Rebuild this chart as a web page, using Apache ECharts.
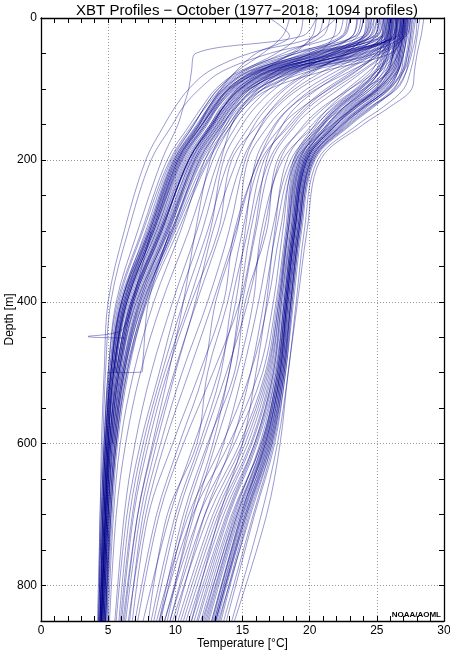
<!DOCTYPE html>
<html><head><meta charset="utf-8">
<script src="https://cdn.jsdelivr.net/npm/echarts@6/dist/echarts.min.js"></script>
<style>html,body{margin:0;padding:0;background:#fff}#c{width:450px;height:653px}</style>
</head><body><div id="c"></div>
<script>
// Depth levels (m) shared by all profiles
const depths = [0, 25, 50, 75, 100, 125, 150, 200, 300, 400, 500, 600, 700, 850];

// Temperature (°C) at the depth levels above; shorter arrays end earlier
const coldProfiles = [
  [26.5, 26.3, 22.0, 17.0, 14.8, 13.6, 12.8, 11.0, 9.0, 6.9, 5.8, 5.2, 4.9, 4.6],
  [25.8, 25.5, 20.5, 16.0, 14.0, 13.0, 12.2, 10.4, 8.5, 6.3, 5.5, 5.0, 4.8, 4.5],
  [27.0, 26.8, 24.0, 18.5, 15.5, 14.2, 13.3, 11.6, 9.4, 7.3, 6.0, 5.3, 5.0, 4.7],
  [24.5, 24.0, 19.0, 15.0, 13.2, 12.2, 11.4, 9.8, 7.9, 5.9, 5.2, 4.8, 4.6, 4.4],
  [26.0, 25.8, 23.0, 17.5, 15.0, 13.8, 12.9, 11.2, 9.2, 7.0, 5.9, 5.3, 5.0, 4.7],
  [23.0, 22.6, 19.5, 16.2, 14.2, 13.0, 12.0, 10.1, 8.2, 6.1, 5.3, 4.9, 4.7, 4.5],
  [27.5, 27.2, 25.0, 19.5, 16.5, 14.8, 13.8, 12.0, 9.8, 7.6, 6.2, 5.5, 5.1, 4.8],
  [25.0, 24.6, 21.0, 16.8, 14.5, 13.2, 12.3, 10.6, 8.6, 6.5, 5.5, 5.0, 4.8, 4.5],
  [21.5, 21.0, 18.0, 15.2, 13.5, 12.5, 11.6, 9.9, 8.0, 6.0, 5.2, 4.9, 4.7, 4.4],
  [26.2, 26.0, 23.5, 18.0, 15.2, 13.9, 13.0, 11.3, 9.3, 7.2, 6.0, 5.3],
  [25.5, 25.0, 20.0, 15.5, 13.6, 12.6, 11.8, 10.0, 8.1, 6.2, 5.4],
  [24.0, 23.5, 18.5, 14.8, 13.0, 12.0, 11.1, 9.4, 7.5, 5.7, 5.0, 4.7, 4.5, 4.3],
  [26.8, 26.5, 22.5, 17.2, 14.9, 13.7, 12.8, 11.1, 8.9, 6.8, 5.7, 5.1, 4.9, 4.6],
  [22.0, 21.8, 20.5, 16.5, 14.0, 12.8, 12.0, 10.3, 8.4, 6.4, 5.4, 5.0, 4.8, 4.5],
  [27.2, 27.0, 26.0, 21.0, 17.0, 15.2, 14.2, 12.5, 10.2, 7.9, 6.4, 5.6, 5.2, 4.9],
  [25.2, 24.8, 21.5, 17.5, 15.3, 14.0, 13.1, 11.4, 9.5, 7.4, 6.2, 5.5, 5.1, 4.8],
  [19.5, 19.2, 17.5, 15.0, 13.4, 12.3, 11.3, 9.6, 7.6, 5.8, 5.1, 4.8, 4.6, 4.4],
  [26.5, 26.2, 24.5, 19.0, 16.0, 14.5, 13.5, 11.8, 9.7, 7.5, 6.1, 5.4],
  [24.8, 24.2, 20.8, 16.3, 14.2, 13.1, 12.2, 10.5, 8.4, 6.4, 5.4, 5.0, 4.8, 4.5],
  [26.0, 25.7, 22.8, 17.8, 15.4, 14.1, 13.2, 11.5, 9.6, 7.8, 6.5, 5.7, 5.3, 4.9],
  [23.5, 23.2, 20.2, 16.0, 13.8, 12.7, 11.8, 10.1, 8.1, 6.0, 5.1, 4.7, 4.5, 4.3],
  [27.0, 26.7, 23.0, 18.0, 15.6, 14.4, 13.6, 12.2, 10.4, 8.4, 6.9, 5.9, 5.4, 5.0],
  [25.5, 25.3, 22.0, 16.8, 14.6, 13.4, 12.6, 10.9, 8.8, 6.7, 5.6],
  [20.5, 20.2, 18.8, 15.8, 13.9, 12.9, 12.0, 10.2, 8.3, 6.2, 5.3, 4.9, 4.7, 4.4],
  [22.5, 22.0, 17.0, 13.5, 11.8, 10.6, 9.8, 8.2, 6.5, 5.2, 4.8, 4.6, 4.4, 4.3],
  [21.0, 20.5, 15.5, 12.5, 11.0, 10.0, 9.2, 7.8, 6.2, 5.0, 4.7, 4.5, 4.4, 4.2],
  [24.2, 24.0, 22.5, 18.2, 15.6, 14.3, 13.4, 11.7, 9.5, 7.1, 5.8, 5.2, 4.9, 4.6],
  [26.6, 26.4, 21.5, 16.6, 14.4, 13.2, 12.4, 10.7, 8.7, 6.6, 5.6],
  [18.5, 18.0, 16.5, 14.6, 13.2, 12.2, 11.4, 9.7, 7.8, 6.0, 5.2, 4.8, 4.6, 4.4],
  [27.3, 27.0, 24.2, 18.8, 16.2, 14.9, 14.0, 12.4, 10.0, 7.8, 6.3, 5.6, 5.2, 4.8],
  [20.5, 19.5, 11.5, 11.2, 11.0, 10.6, 10.2, 9.0, 7.2, 5.6, 5.0, 4.7, 4.5, 4.3],
  [25.9, 25.6, 21.8, 16.9, 14.7, 13.5, 12.6, 10.8, 8.8, 6.7, 5.6, 5.1, 4.8, 4.5],
  [26.3, 26.1, 23.2, 17.6, 15.1, 13.8, 12.9, 11.2, 9.1, 6.9, 5.8, 5.2, 4.9, 4.6],
  [24.6, 24.3, 20.2, 15.8, 13.9, 12.8, 11.9, 10.2, 8.2, 6.2, 5.3, 4.9, 4.7, 4.4],
  [27.1, 26.9, 24.8, 19.2, 16.1, 14.6, 13.6, 11.9, 9.7, 7.4, 6.1, 5.4, 5.0, 4.7],
  [25.4, 25.1, 21.2, 16.4, 14.3, 13.1, 12.3, 10.5, 8.6, 6.4, 5.4, 5.0, 4.8, 4.5],
  [26.7, 26.5, 23.8, 18.3, 15.5, 14.2, 13.3, 11.5, 9.3, 7.1, 5.9, 5.3, 5.0, 4.7],
  [23.8, 23.4, 19.8, 15.6, 13.7, 12.6, 11.7, 9.9, 8.0, 6.0, 5.2, 4.8, 4.6, 4.4],
  [26.1, 25.9, 22.4, 17.3, 14.9, 13.6, 12.7, 11.0, 9.0, 6.8, 5.7, 5.1, 4.9, 4.6],
  [25.7, 25.4, 20.8, 16.2, 14.1, 12.9, 12.1, 10.4, 8.4, 6.4, 5.5],
  [27.4, 27.1, 25.4, 20.0, 16.6, 15.0, 14.0, 12.2, 9.9, 7.6, 6.2, 5.5, 5.1, 4.8],
  [22.8, 22.4, 19.0, 15.4, 13.6, 12.5, 11.7, 10.0, 8.1, 6.1, 5.2, 4.8, 4.6, 4.4],
  [26.4, 26.2, 22.9, 17.7, 15.3, 14.0, 13.1, 11.4, 9.4, 7.3, 6.1, 5.4, 5.0, 4.7],
  [25.1, 24.8, 20.4, 16.1, 14.0, 12.9, 12.0, 10.3, 8.3, 6.3, 5.4, 4.9, 4.7],
  [24.4, 24.1, 21.6, 17.0, 14.8, 13.6, 12.7, 11.0, 8.9, 6.8, 5.7, 5.1, 4.8, 4.5],
  [26.9, 26.6, 22.2, 17.1, 14.8, 13.6, 12.7, 11.0, 8.9, 6.7, 5.6, 5.1, 4.8, 4.5],
  [25.6, 25.4, 23.6, 18.6, 15.8, 14.5, 13.5, 11.8, 9.8, 7.7, 6.4, 5.6, 5.2, 4.8],
  [17.0, 18.5, 16.0, 14.5, 13.4, 12.5, 11.8, 10.2, 8.3, 6.3, 5.4, 5.0, 4.7, 4.5],
  [22.0, 20.5, 18.6, 16.4, 14.6, 13.6, 12.8, 11.0, 9.0, 6.9, 5.8, 5.2, 4.9, 4.6]
];

const warmProfiles = [
  [27.2, 27.0, 26.8, 26.4, 25.5, 23.8, 22.2, 19.9, 19.0, 18.4, 17.9, 16.8, 14.8, 12.5],
  [26.5, 26.4, 26.2, 25.8, 24.8, 23.0, 21.6, 19.4, 18.6, 18.0, 17.3, 15.9, 13.8, 11.2],
  [27.8, 27.6, 27.4, 27.2, 26.5, 24.5, 22.8, 20.3, 19.3, 18.7, 18.2, 17.3, 15.8, 13.6],
  [26.8, 26.6, 26.3, 25.6, 24.2, 22.6, 21.3, 19.2, 18.4, 17.8, 17.0, 15.4, 13.0, 10.4],
  [28.2, 28.0, 27.8, 27.5, 27.0, 25.5, 23.6, 20.6, 19.6, 19.0, 18.4, 17.6, 16.4, 14.2],
  [27.0, 26.9, 26.7, 26.3, 25.0, 23.2, 21.8, 19.7, 18.9, 18.3, 17.7, 16.5, 14.5, 12.0],
  [26.2, 26.0, 25.8, 25.2, 23.8, 22.0, 20.8, 19.0, 18.3, 17.7, 16.8, 15.0, 12.5, 9.8],
  [27.5, 27.3, 27.0, 26.8, 26.0, 24.2, 22.5, 20.0, 19.1, 18.5, 18.0, 17.0, 15.2, 13.0],
  [25.8, 25.7, 25.5, 25.0, 23.5, 21.8, 20.6, 18.9, 18.2, 17.5, 16.5, 14.4, 11.8, 9.2],
  [27.3, 27.1, 26.9, 26.6, 25.8, 24.0, 22.4, 20.1, 19.2, 18.6, 18.1, 17.2, 15.6, 13.2],
  [26.6, 26.5, 26.3, 25.9, 24.6, 22.8, 21.4, 19.5, 18.7, 18.1, 17.5, 16.1, 14.0, 11.6],
  [28.5, 28.3, 28.0, 27.8, 27.6, 26.0, 24.0, 20.8, 19.8, 19.1, 18.4, 17.8, 16.8, 14.4],
  [26.9, 26.7, 26.5, 26.0, 24.0, 22.2, 21.0, 19.3, 18.5, 17.9, 17.2, 15.7, 13.4, 10.8],
  [27.1, 27.0, 26.8, 26.5, 25.4, 23.6, 22.0, 19.8, 18.9, 18.3, 17.8, 16.7, 14.9, 12.7],
  [26.3, 26.1, 25.9, 25.5, 24.4, 22.7, 21.4, 19.6, 18.8, 18.2, 17.6, 16.4, 14.3, 11.9],
  [27.6, 27.5, 27.3, 27.0, 26.2, 24.6, 22.9, 20.2, 19.2, 18.6, 18.0, 17.1, 15.4, 13.3],
  [25.5, 25.4, 25.2, 24.6, 23.0, 21.5, 20.4, 18.8, 18.0, 17.3, 16.2, 14.0, 11.3, 8.8],
  [27.0, 26.8, 26.6, 26.2, 25.1, 23.3, 21.9, 19.7, 18.8, 18.2, 17.6, 16.5, 14.6, 12.3],
  [26.4, 26.3, 26.1, 25.7, 24.9, 23.1, 21.7, 19.6, 18.8, 18.2, 17.7, 16.6, 14.9, 12.8],
  [27.9, 27.7, 27.5, 27.0, 25.9, 24.0, 22.4, 20.0, 19.1, 18.5, 17.9, 16.9, 15.0, 12.7],
  [25.9, 25.8, 25.6, 25.2, 24.1, 22.4, 21.1, 19.3, 18.4, 17.7, 16.9, 15.2, 12.8, 10.2],
  [27.1, 26.9, 26.7, 26.5, 25.7, 24.1, 22.6, 20.1, 19.1, 18.4, 17.8, 16.8, 15.1, 12.9],
  [26.7, 26.6, 26.4, 26.0, 25.0, 23.3, 21.8, 19.6, 18.7, 18.1, 17.5, 16.3, 14.4, 12.1],
  [27.3, 27.2, 27.0, 26.6, 25.6, 23.9, 22.3, 19.9, 19.0, 18.4, 17.9, 16.9, 15.2, 13.0],
  [26.9, 26.8, 26.6, 26.2, 25.2, 23.5, 22.0, 19.8, 18.9, 18.3, 17.8, 16.7, 14.7, 12.4],
  [26.1, 26.0, 25.8, 25.3, 24.0, 22.3, 21.0, 19.2, 18.4, 17.8, 17.1, 15.6, 13.2, 10.6],
  [27.7, 27.5, 27.3, 26.9, 25.8, 24.1, 22.5, 20.1, 19.2, 18.6, 18.1, 17.2, 15.5, 13.4],
  [26.5, 26.4, 26.2, 25.8, 24.6, 22.9, 21.5, 19.5, 18.7, 18.1, 17.4, 16.0, 13.9, 11.4],
  [27.2, 27.1, 26.9, 26.6, 25.9, 24.3, 22.7, 20.2, 19.2, 18.6, 18.0, 17.0, 15.3, 13.1],
  [26.8, 26.7, 26.5, 26.1, 25.1, 23.4, 21.9, 19.7, 18.8, 18.2, 17.6, 16.4, 14.2, 11.7],
  [27.5, 27.4, 27.2, 26.9, 26.3, 24.8, 23.1, 20.4, 19.4, 18.8, 18.2, 17.4, 15.9, 13.8],
  [26.0, 25.9, 25.7, 25.2, 24.2, 22.6, 21.3, 19.4, 18.6, 17.9, 17.3, 15.9, 13.6, 11.0],
  [27.0, 26.9, 26.7, 26.3, 25.3, 23.6, 22.1, 19.8, 18.9, 18.3, 17.7, 16.6, 14.6, 12.2],
  [26.6, 26.4, 26.2, 25.9, 25.0, 23.4, 22.0, 19.8, 18.9, 18.3, 17.8, 16.7, 15.0, 12.9],
  [28.0, 27.9, 27.6, 27.2, 26.4, 24.7, 23.0, 20.3, 19.3, 18.7, 18.1, 17.1, 15.3, 13.0],
  [25.7, 25.6, 25.4, 24.9, 23.7, 22.1, 20.9, 19.1, 18.3, 17.6, 16.7, 14.8, 12.2, 9.6]
];

const mixedProfiles = [
  [26.0, 25.8, 25.0, 23.5, 21.5, 19.5, 18.0, 16.2, 14.5, 12.8, 11.0, 9.2, 7.8, 6.5],
  [27.0, 26.8, 26.2, 25.0, 23.0, 21.0, 19.6, 17.8, 16.6, 15.4, 13.8, 12.0, 10.2, 8.4],
  [25.0, 24.5, 22.0, 19.0, 17.0, 15.6, 14.6, 13.2, 11.6, 9.8, 8.2, 7.0, 6.2, 5.5],
  [26.5, 26.3, 25.6, 24.0, 22.2, 20.4, 19.0, 17.2, 16.0, 15.0, 14.0, 12.8, 11.2, 9.4],
  [24.0, 23.6, 21.5, 18.5, 16.5, 15.2, 14.2, 12.8, 11.0, 9.0, 7.4, 6.3, 5.6, 5.1],
  [27.2, 27.0, 26.6, 25.8, 24.4, 22.6, 21.0, 18.8, 17.5, 16.6, 15.6, 14.2, 12.2, 10.0],
  [25.6, 25.4, 24.0, 21.5, 19.2, 17.6, 16.5, 15.0, 13.4, 11.6, 9.9, 8.4, 7.2, 6.1],
  [26.8, 26.6, 26.0, 24.8, 23.4, 21.6, 20.2, 18.3, 17.4, 16.8, 16.0, 15.0, 13.3, 11.2],
  [23.0, 22.5, 20.0, 17.5, 15.8, 14.6, 13.8, 12.6, 11.5, 10.6, 9.5, 8.3, 7.2, 6.2],
  [26.2, 26.0, 25.3, 23.0, 20.5, 18.6, 17.4, 16.0, 15.2, 14.5, 13.2, 11.4, 9.6, 7.6],
  [25.3, 25.0, 23.0, 20.0, 18.0, 16.6, 15.6, 14.0, 12.4, 10.6, 9.0, 7.6, 6.6, 5.8],
  [27.4, 27.2, 27.0, 26.5, 25.2, 23.4, 21.7, 19.0, 17.8, 16.9, 15.6, 13.5, 11.0, 8.6],
  [24.6, 24.2, 22.6, 20.4, 18.6, 17.3, 16.4, 15.2, 14.0, 12.4, 10.5, 8.9, 7.6, 6.6],
  [26.0, 25.8, 24.8, 22.6, 20.6, 19.0, 18.0, 16.8, 15.9, 14.8, 12.8, 10.6, 8.8, 7.2],
  [25.8, 25.5, 24.4, 22.0, 19.8, 18.2, 17.0, 15.4, 14.6, 13.0, 12.1, 10.3, 8.6, 7.0],
  [26.4, 26.2, 25.2, 23.4, 21.4, 19.8, 18.6, 16.4, 15.0, 13.9, 12.4, 11.6, 9.4, 8.0],
  [26.3, 26.1, 25.5, 23.8, 21.8, 20.0, 18.8, 17.0, 15.6, 14.8, 14.0, 12.5, 10.8, 8.9],
  [24.8, 24.5, 22.8, 20.2, 18.2, 16.9, 15.9, 14.6, 12.8, 11.5, 10.0, 8.6, 7.4, 6.3],
  [27.1, 26.9, 26.3, 25.3, 23.6, 21.9, 20.5, 18.0, 16.4, 15.8, 14.6, 13.0, 11.4, 9.2],
  [23.6, 23.2, 21.0, 18.0, 16.2, 15.0, 14.2, 13.4, 12.0, 10.2, 8.8, 7.4, 6.4, 5.6],
  [25.9, 25.7, 24.6, 22.4, 20.2, 18.6, 17.5, 16.2, 14.4, 13.6, 11.8, 9.8, 8.0, 6.8],
  [26.6, 26.4, 25.8, 24.4, 22.8, 21.2, 19.8, 17.6, 16.8, 15.2, 14.4, 12.4, 10.6, 8.8],
  [25.2, 24.9, 23.4, 21.0, 18.9, 17.4, 16.2, 14.2, 13.2, 11.2, 9.4, 8.0, 6.9, 6.0],
  [26.9, 26.7, 26.1, 25.0, 23.8, 22.2, 20.8, 18.6, 17.2, 16.2, 15.0, 13.6, 11.8, 9.6],
  [24.3, 24.0, 21.8, 19.2, 17.4, 16.0, 15.0, 13.6, 12.6, 11.0, 9.2, 7.8, 6.8, 5.9],
  [26.1, 25.9, 25.0, 23.2, 21.2, 19.6, 18.4, 16.6, 15.4, 14.2, 13.4, 11.8, 10.0, 8.2]
];

// Short profiles with spurious end points (temperature, depth pairs)
const stubProfiles = [
  [[8.2, 300], [6.8, 400], [6.0, 440], [3.5, 449], [6.3, 451]],
  [[9.6, 300], [8.0, 400], [7.6, 480], [7.5, 499], [4.9, 500]]
];

const lineColor = 'rgba(0,0,140,0.4)';
const series = [];
function addProfile(temps) {
  series.push({
    type: 'line', xAxisIndex: 0, yAxisIndex: 0,
    data: temps.map((t, i) => [t, depths[i]]),
    showSymbol: false, smooth: 0.35, silent: true,
    lineStyle: { color: lineColor, width: 1 }
  });
}
mixedProfiles.forEach(addProfile);
coldProfiles.forEach(addProfile);
warmProfiles.forEach(addProfile);
stubProfiles.forEach(p => series.push({
  type: 'line', xAxisIndex: 0, yAxisIndex: 0, data: p,
  showSymbol: false, smooth: 0.3, silent: true,
  lineStyle: { color: lineColor, width: 1 }
}));

const FONT = 'Liberation Sans, Arial, sans-serif';
function frame() { return { show: true, onZero: false, lineStyle: { color: '#000', width: 1.3 } }; }
function tickIn() { return { show: true, inside: true, length: 5, lineStyle: { color: '#000', width: 1 } }; }
function dotted() { return { show: true, lineStyle: { color: '#999', type: [1, 2], width: 1 } }; }

const chart = echarts.init(document.getElementById('c'), null, { renderer: 'canvas' });
chart.setOption({
  animation: false,
  backgroundColor: '#fff',
  title: {
    text: 'XBT Profiles \u2212 October (1977\u22122018;  1094 profiles)',
    left: 242, top: -2, textAlign: 'center',
    textStyle: { fontFamily: FONT, fontSize: 15, fontWeight: 'normal', color: '#000' }
  },
  grid: { left: 41, right: 6, top: 18, bottom: 32, containLabel: false, outerBoundsMode: 'none' },
  xAxis: [
    { type: 'value', min: 0, max: 30, interval: 5, position: 'bottom',
      axisLine: frame(), axisTick: tickIn(),
      minorTick: { show: true, splitNumber: 5, length: 5, lineStyle: { color: '#000' } },
      axisLabel: { color: '#000', fontSize: 12, fontFamily: FONT, margin: 4 },
      splitLine: dotted(),
      name: 'Temperature [\u00b0C]', nameLocation: 'middle', nameGap: 17, nameMoveOverlap: false,
      nameTextStyle: { color: '#000', fontSize: 12, fontFamily: FONT } },
    { type: 'value', min: 0, max: 30, interval: 5, position: 'top',
      axisLine: frame(), axisTick: tickIn(),
      minorTick: { show: true, splitNumber: 5, length: 5, lineStyle: { color: '#000' } },
      axisLabel: { show: false }, splitLine: { show: false } }
  ],
  yAxis: [
    { type: 'value', inverse: true, min: 0, max: 850, interval: 50, position: 'left',
      axisLine: frame(), axisTick: tickIn(),
      axisLabel: { color: '#000', fontSize: 12, fontFamily: FONT, margin: 4,
        formatter: v => (v % 200 === 0 ? String(v) : '') },
      splitLine: { show: false },
      name: 'Depth [m]', nameLocation: 'middle', nameGap: 25, nameRotate: 90, nameMoveOverlap: false,
      nameTextStyle: { color: '#000', fontSize: 12, fontFamily: FONT } },
    { type: 'value', inverse: true, min: 0, max: 850, interval: 50, position: 'right',
      axisLine: frame(), axisTick: tickIn(), axisLabel: { show: false }, splitLine: { show: false } },
    { type: 'value', inverse: true, min: 0, max: 850, interval: 200, position: 'left',
      axisLine: { show: false }, axisTick: { show: false }, axisLabel: { show: false },
      splitLine: dotted() }
  ],
  graphic: [
    { type: 'text', right: 9, top: 611, style: { text: 'NOAA/AOML', fontFamily: FONT,
      fontSize: 8, fontWeight: 'bold', fill: '#000' } }
  ],
  series: series
});
</script></body></html>
